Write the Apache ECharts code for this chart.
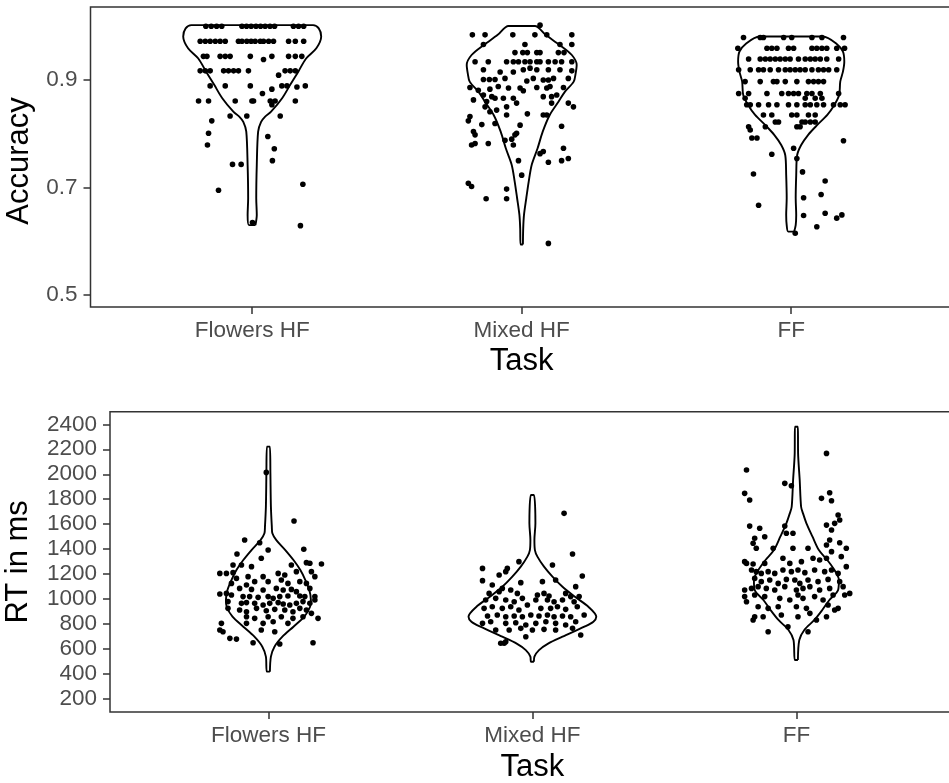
<!DOCTYPE html>
<html><head><meta charset="utf-8">
<script src="https://cdn.jsdelivr.net/npm/echarts@6/dist/echarts.min.js"></script>
<style>html,body{margin:0;padding:0;background:#fff}#c{width:949px;height:783px}</style>
</head><body><div id="c"></div>
<script>
const categories = ['Flowers HF', 'Mixed HF', 'FF'];
const accTicks = [0.5, 0.7, 0.9];
const rtTicks = [200, 400, 600, 800, 1000, 1200, 1400, 1600, 1800, 2000, 2200, 2400];

// jittered points: [horizontal jitter (category units), value]
const accFlowersPts = [
[-0.172,1.0],[-0.152,1.0],[-0.132,1.0],[-0.113,1.0],[-0.038,1.0],[-0.021,1.0],[-0.004,1.0],[0.014,1.0],[0.031,1.0],[0.048,1.0],[0.066,1.0],[0.083,1.0],[0.153,1.0],[0.172,1.0],[0.191,1.0],
[-0.193,0.972],[-0.174,0.972],[-0.156,0.972],[-0.137,0.972],[-0.119,0.972],[-0.100,0.972],[-0.051,0.972],[-0.038,0.972],[-0.020,0.972],[-0.004,0.972],[0.011,0.972],[0.030,0.972],[0.042,0.972],[0.061,0.972],[0.079,0.972],[0.135,0.972],[0.160,0.972],[0.191,0.972],
[-0.181,0.944],[-0.168,0.944],[-0.119,0.944],[-0.100,0.944],[-0.082,0.944],[-0.007,0.944],[0.073,0.944],[0.135,0.944],[0.160,0.944],[0.184,0.944],[0.042,0.938],
[-0.193,0.917],[-0.174,0.917],[-0.156,0.917],[-0.106,0.917],[-0.088,0.917],[-0.069,0.917],[-0.051,0.917],[-0.014,0.917],[0.122,0.917],[0.141,0.917],[0.160,0.917],[0.098,0.909],
[-0.156,0.889],[-0.100,0.889],[-0.007,0.889],[0.110,0.889],[0.129,0.889],[0.166,0.887],[0.197,0.889],[0.073,0.883],[0.038,0.875],
[-0.199,0.861],[-0.162,0.861],[-0.063,0.861],[-0.001,0.861],[0.005,0.861],[0.067,0.861],[0.085,0.861],[0.160,0.861],[0.073,0.854],
[-0.082,0.833],[-0.020,0.833],[0.104,0.833],
[-0.150,0.824],[-0.162,0.801],[-0.166,0.779],[0.058,0.795],[0.082,0.772],[0.075,0.750],[-0.073,0.743],[-0.041,0.743],[-0.125,0.695],[0.188,0.706],[0.179,0.629],[0.001,0.635]
];
const accMixedPts = [
[0.068,1.002],[-0.183,0.984],[-0.136,0.984],[-0.033,0.984],[0.049,0.984],[0.093,0.984],[0.186,0.984],
[-0.142,0.966],[0.012,0.966],[0.142,0.966],[0.186,0.966],
[-0.025,0.951],[0.004,0.951],[0.021,0.951],[0.056,0.951],[0.068,0.951],[0.136,0.951],[0.157,0.951],
[-0.173,0.934],[-0.124,0.934],[-0.056,0.934],[-0.031,0.934],[-0.012,0.934],[0.012,0.934],[0.031,0.934],[0.056,0.934],[0.068,0.934],[0.099,0.934],[0.124,0.934],[0.148,0.934],[0.186,0.934],
[-0.142,0.919],[-0.080,0.915],[-0.031,0.915],[0.006,0.919],[0.031,0.922],[0.056,0.919],[0.099,0.919],[0.142,0.919],[0.186,0.917],
[-0.142,0.901],[-0.120,0.901],[-0.099,0.901],[-0.062,0.903],[0.019,0.898],[0.043,0.903],[0.080,0.900],[0.099,0.900],[0.118,0.903],[0.173,0.903],
[-0.192,0.886],[-0.161,0.881],[-0.118,0.883],[-0.087,0.888],[-0.049,0.885],[-0.006,0.885],[0.006,0.880],[0.056,0.886],[0.093,0.885],[0.105,0.888],[0.155,0.886],
[-0.142,0.872],[-0.111,0.869],[-0.099,0.866],[-0.068,0.866],[-0.031,0.866],[0.080,0.869],[0.111,0.869],[0.130,0.872],[-0.179,0.863],
[-0.130,0.860],[-0.136,0.850],[-0.093,0.844],[-0.056,0.850],[-0.019,0.857],[0.111,0.857],[0.173,0.857],[0.192,0.850],
[-0.118,0.841],[-0.056,0.835],[0.021,0.837],[0.080,0.835],[0.093,0.835],
[-0.192,0.832],[-0.198,0.824],[-0.148,0.817],[-0.099,0.819],[-0.006,0.816],[0.148,0.814],
[-0.179,0.804],[-0.019,0.801],[-0.173,0.798],
[-0.062,0.788],[-0.037,0.790],[-0.025,0.798],
[-0.186,0.779],[-0.173,0.782],[-0.124,0.782],[-0.031,0.779],
[0.080,0.767],[0.068,0.763],[0.155,0.773],
[-0.012,0.750],[0.099,0.747],[0.148,0.750],[0.173,0.754],
[0.000,0.723],
[-0.198,0.708],[-0.186,0.702],[-0.056,0.697],
[-0.132,0.679],[-0.056,0.679],
[0.099,0.596]
];
const accFFPts = [
[-0.177,0.979],[-0.115,0.979],[-0.103,0.979],[-0.028,0.979],[0.002,0.979],[0.077,0.979],[0.114,0.979],[0.194,0.979],
[-0.198,0.959],[-0.090,0.959],[-0.072,0.959],[-0.053,0.959],[-0.010,0.959],[0.009,0.959],[0.077,0.959],[0.095,0.959],[0.114,0.959],[0.132,0.959],[0.169,0.959],[0.198,0.959],
[-0.158,0.939],[-0.115,0.939],[-0.096,0.939],[-0.078,0.939],[-0.059,0.939],[-0.041,0.939],[-0.022,0.939],[-0.004,0.939],[0.027,0.939],[0.052,0.939],[0.071,0.939],[0.089,0.939],[0.108,0.939],[0.132,0.939],[0.176,0.939],
[-0.195,0.919],[-0.152,0.919],[-0.121,0.919],[-0.103,0.919],[-0.078,0.919],[-0.047,0.919],[-0.022,0.919],[-0.004,0.919],[0.015,0.919],[0.033,0.919],[0.052,0.919],[0.077,0.919],[0.101,0.919],[0.120,0.919],[0.139,0.919],[0.169,0.919],
[-0.171,0.897],[-0.115,0.897],[-0.066,0.897],[-0.053,0.897],[-0.022,0.897],[0.021,0.897],[0.064,0.897],[0.083,0.897],[0.101,0.897],[0.120,0.897],
[-0.195,0.875],[-0.158,0.875],[-0.090,0.875],[-0.035,0.875],[-0.010,0.875],[0.009,0.875],[0.027,0.875],[0.058,0.875],[0.077,0.875],[0.108,0.875],[0.176,0.875],
[0.052,0.866],[0.089,0.866],[0.114,0.866],[-0.171,0.866],
[-0.165,0.854],[-0.152,0.854],[-0.121,0.854],[-0.084,0.854],[-0.053,0.854],[-0.010,0.854],[0.021,0.854],[0.052,0.854],[0.071,0.854],[0.095,0.854],[0.120,0.854],[0.157,0.854],[0.182,0.854],[0.200,0.854],
[-0.103,0.835],[-0.072,0.835],[0.002,0.835],[0.021,0.835],[0.064,0.835],[0.089,0.835],
[-0.059,0.822],[-0.047,0.822],[0.040,0.822],[0.052,0.822],[0.071,0.822],[0.089,0.822],
[-0.158,0.813],[-0.096,0.813],[0.021,0.813],[0.033,0.813],
[-0.152,0.807],[-0.146,0.792],[-0.127,0.792],[0.194,0.787],[-0.072,0.762],[0.009,0.773],[0.021,0.754],
[-0.140,0.725],[0.042,0.729],[0.126,0.712],[0.046,0.681],[0.111,0.687],[-0.121,0.667],
[0.046,0.648],[0.126,0.652],[0.169,0.643],[0.188,0.649],[0.095,0.627],[0.015,0.615]
];
const rtFlowersPts = [
[-0.008,2015],[0.097,1626],[-0.090,1473],[-0.033,1452],[-0.001,1393],[0.134,1399],[-0.119,1361],[-0.027,1327],
[-0.102,1273],[-0.064,1260],[0.087,1273],[0.144,1292],[0.157,1287],[0.201,1281],[-0.134,1273],
[-0.184,1206],[-0.159,1206],[-0.134,1212],[-0.077,1180],[-0.020,1180],[0.037,1206],[0.062,1193],[0.106,1220],[0.163,1220],[0.176,1180],
[-0.140,1126],[-0.083,1113],[-0.052,1140],[-0.001,1140],[0.049,1153],[0.074,1126],[0.119,1140],[0.144,1126],[-0.121,1166],
[-0.109,1086],[-0.064,1078],[-0.020,1073],[0.030,1086],[0.056,1073],[0.087,1078],[0.106,1060],[0.157,1086],
[-0.184,1041],[-0.159,1046],[-0.140,1033],[-0.096,1020],[-0.071,1020],[-0.039,1014],[-0.001,1020],[0.018,1006],[0.043,1020],[0.074,1025],[0.119,1025],[0.138,1020],[0.176,1020],
[-0.153,980],[-0.102,966],[-0.083,972],[-0.052,966],[-0.020,953],[0.005,966],[0.037,972],[0.056,961],[0.081,953],[0.106,966],[0.131,980],[0.157,966],[0.176,993],
[-0.153,926],[-0.109,913],[-0.083,899],[-0.045,926],[-0.008,907],[0.024,918],[0.062,913],[0.093,899],[0.119,926],[0.144,913],[0.163,886],
[-0.083,859],[-0.052,846],[-0.001,859],[0.049,859],[0.093,846],[0.131,859],[0.188,846],
[-0.178,806],[-0.083,806],[-0.020,806],[0.018,819],[0.074,806],
[-0.184,753],[-0.172,739],[-0.027,753],[0.024,739],
[-0.146,686],[-0.121,680],[-0.058,651],[0.043,640],[0.169,651]
];
const rtMixedPts = [
[0.120,1687],[0.152,1361],[-0.051,1300],[-0.189,1246],[-0.095,1246],[-0.126,1193],[-0.101,1220],[0.076,1273],[0.189,1185],
[-0.189,1148],[-0.044,1132],[0.088,1153],[0.164,1100],[-0.152,1113],[-0.114,1086],[0.038,1140],
[-0.164,1046],[-0.126,1060],[-0.082,1073],[-0.057,1046],[0.019,1033],[0.044,1046],[0.063,1025],[0.126,1046],[0.145,1020],[0.177,1020],
[-0.177,993],[-0.139,1006],[-0.101,993],[-0.069,979],[-0.038,1006],[0.013,993],[0.057,993],[0.082,979],[0.114,993],[0.158,979],
[-0.183,926],[-0.152,939],[-0.114,926],[-0.082,939],[-0.051,913],[-0.019,953],[0.032,926],[0.069,926],[0.095,939],[0.126,918],[0.170,939],
[-0.170,865],[-0.133,873],[-0.101,859],[-0.069,865],[-0.038,859],[-0.006,873],[0.025,865],[0.057,873],[0.082,859],[0.114,865],[0.145,859],[0.196,873],
[-0.189,806],[-0.158,819],[-0.101,806],[-0.063,811],[-0.025,793],[0.013,806],[0.051,819],[0.088,806],[0.126,793],[0.164,819],
[-0.139,753],[-0.088,753],[-0.044,766],[0.000,753],[0.044,758],[0.088,753],[0.152,766],[0.183,713],
[-0.101,659],[-0.025,699],[-0.107,646],[-0.120,646]
];
const rtFFPts = [
[0.114,2167],[-0.189,2034],[-0.044,1927],[-0.019,1908],[-0.196,1847],[-0.177,1794],[0.126,1852],[0.095,1807],[0.133,1788],
[0.158,1674],[0.164,1634],[0.145,1607],[0.114,1593],[0.133,1553],[-0.177,1585],[-0.139,1567],[-0.044,1585],[-0.013,1527],[-0.038,1527],
[-0.158,1487],[-0.164,1447],[-0.152,1407],[-0.120,1500],[-0.088,1407],[-0.013,1407],[0.044,1407],[0.126,1473],[0.164,1452],[0.189,1407],[0.114,1433],[0.133,1380],
[-0.196,1300],[-0.164,1281],[-0.120,1286],[-0.051,1327],[-0.025,1286],[0.019,1300],[0.063,1327],[0.088,1313],[0.114,1327],[0.170,1340],[0.189,1260],[-0.189,1286],
[-0.170,1233],[-0.152,1220],[-0.133,1206],[-0.107,1220],[-0.082,1206],[-0.051,1233],[-0.019,1220],[0.006,1233],[0.032,1212],[0.069,1233],[0.107,1220],[0.133,1233],[0.158,1206],
[-0.158,1166],[-0.133,1140],[-0.101,1153],[-0.069,1126],[-0.038,1158],[-0.006,1153],[0.013,1126],[0.044,1153],[0.082,1140],[0.120,1158],[0.164,1140],
[-0.196,1073],[-0.170,1086],[-0.145,1100],[-0.114,1086],[-0.082,1073],[-0.044,1100],[0.000,1073],[0.025,1086],[0.051,1100],[0.088,1073],[0.126,1086],[0.177,1100],[0.202,1046],
[-0.196,1020],[-0.189,979],[-0.158,1033],[-0.120,1020],[-0.063,1006],[-0.025,993],[0.006,1033],[0.025,1006],[0.069,1020],[0.101,993],[0.139,1033],[0.183,1033],
[-0.145,939],[-0.107,926],[-0.069,939],[0.000,939],[0.038,926],[0.120,953],[0.145,913],[0.158,926],
[-0.158,859],[-0.126,859],[-0.057,873],[0.006,859],[0.051,886],[0.076,833],[0.114,859],
[-0.164,833],[-0.032,779],[-0.107,739],[0.044,739]
];

// violin outlines: [value, half-width (category units)], bottom to top
const accFlowersViolin = [[0.630,0.012],[0.649,0.017],[0.680,0.015],[0.742,0.017],[0.804,0.022],[0.822,0.033],[0.832,0.048],[0.841,0.070],[0.866,0.111],[0.891,0.141],[0.9155,0.171],[0.940,0.200],[0.959,0.238],[0.981,0.256],[0.996,0.247],[1.002,0.226]];
const accMixedViolin = [[0.594,0.0045],[0.624,0.0056],[0.649,0.0085],[0.680,0.017],[0.711,0.026],[0.742,0.037],[0.773,0.059],[0.804,0.078],[0.835,0.104],[0.860,0.137],[0.878,0.160],[0.897,0.193],[0.912,0.200],[0.928,0.204],[0.9465,0.186],[0.965,0.141],[0.984,0.089],[1.0005,0.049]];
const accFFViolin = [[0.618,0.011],[0.630,0.0167],[0.649,0.0186],[0.680,0.0167],[0.723,0.0186],[0.760,0.022],[0.779,0.037],[0.798,0.063],[0.816,0.096],[0.835,0.134],[0.8535,0.160],[0.872,0.178],[0.897,0.182],[0.9155,0.192],[0.934,0.197],[0.9527,0.192],[0.968,0.167],[0.981,0.118]];
const rtFlowersViolin = [[419,0.0057],[539,0.0095],[619,0.023],[699,0.053],[779,0.095],[859,0.136],[939,0.158],[993,0.161],[1073,0.155],[1153,0.140],[1233,0.121],[1313,0.095],[1393,0.064],[1473,0.030],[1527,0.015],[1580,0.013],[1740,0.0095],[2007,0.0076],[2221,0.0057]];
const rtMixedViolin = [[499,0.0057],[539,0.0076],[592,0.025],[646,0.061],[699,0.114],[779,0.197],[819,0.231],[859,0.242],[939,0.212],[1019,0.161],[1099,0.114],[1180,0.076],[1260,0.044],[1340,0.019],[1393,0.0095],[1473,0.0076],[1607,0.0114],[1834,0.0057]];
const rtFFViolin = [[512,0.0057],[673,0.011],[753,0.030],[833,0.068],[913,0.098],[993,0.125],[1073,0.158],[1153,0.161],[1233,0.144],[1313,0.117],[1393,0.085],[1500,0.061],[1607,0.038],[1687,0.025],[1740,0.0178],[1954,0.0125],[2168,0.0064],[2381,0.0057]];

function violinPath(ci, v) {
  const c = ci + 1;
  const right = v.map(d => [c + d[1], d[0]]);
  const left = v.slice().reverse().map(d => [c - d[1], d[0]]);
  return right.concat(left, [right[0]]);
}
function jitter(ci, arr) { return arr.map(d => [ci + 1 + d[0], d[1]]); }

const FONT = 'Liberation Sans, Arial, sans-serif';
const tickColor = '#333';
const labelStyle = { color: '#4d4d4d', fontSize: 22.5, fontFamily: FONT };
const nameStyle = { color: '#000', fontSize: 31, fontFamily: FONT };

function xAxisFor(gi, gap) {
  return {
    gridIndex: gi, type: 'value', min: 0.4, max: 3.6,
    name: 'Task', nameLocation: 'middle', nameGap: gap, nameTextStyle: nameStyle,
    axisLine: { show: false },
    splitLine: { show: false },
    axisTick: { show: true, customValues: [1, 2, 3], length: 7, lineStyle: { color: tickColor, width: 1.5 } },
    axisLabel: { customValues: [1, 2, 3], margin: 12, formatter: v => categories[Math.round(v) - 1], ...labelStyle }
  };
}

const violinStyle = { type: 'line', showSymbol: false, symbol: 'none', smooth: 0.3, silent: true,
  lineStyle: { color: '#000', width: 1.9 }, z: 2 };
const pointStyle = { type: 'scatter', symbol: 'circle', symbolSize: 5.6, itemStyle: { color: '#000', opacity: 1 }, silent: true, z: 3 };

const accViolins = [accFlowersViolin, accMixedViolin, accFFViolin];
const rtViolins = [rtFlowersViolin, rtMixedViolin, rtFFViolin];
const accPts = [accFlowersPts, accMixedPts, accFFPts];
const rtPts = [rtFlowersPts, rtMixedPts, rtFFPts];

const series = [];
accViolins.forEach((v, i) => series.push({ ...violinStyle, xAxisIndex: 0, yAxisIndex: 0, data: violinPath(i, v) }));
accPts.forEach((p, i) => series.push({ ...pointStyle, xAxisIndex: 0, yAxisIndex: 0, data: jitter(i, p) }));
rtViolins.forEach((v, i) => series.push({ ...violinStyle, xAxisIndex: 1, yAxisIndex: 1, data: violinPath(i, v) }));
rtPts.forEach((p, i) => series.push({ ...pointStyle, xAxisIndex: 1, yAxisIndex: 1, data: jitter(i, p) }));

const chart = echarts.init(document.getElementById('c'), null, { renderer: 'canvas' });
chart.setOption({
  animation: false,
  backgroundColor: '#fff',
  grid: [
    { left: 90.5, top: 7, width: 862.4, height: 300, show: true, borderColor: tickColor, borderWidth: 1.5, outerBoundsMode: 'none', containLabel: false },
    { left: 110, top: 411.7, width: 844.8, height: 300.3, show: true, borderColor: tickColor, borderWidth: 1.5, outerBoundsMode: 'none', containLabel: false }
  ],
  xAxis: [xAxisFor(0, 39), xAxisFor(1, 40)],
  yAxis: [
    { gridIndex: 0, type: 'value', min: 0.4777, max: 1.0358,
      name: 'Accuracy', nameLocation: 'middle', nameGap: 56, nameTextStyle: { ...nameStyle, padding: [0, 8, 0, 0] },
      axisLine: { show: false }, splitLine: { show: false },
      axisTick: { show: true, customValues: accTicks, length: 7, lineStyle: { color: tickColor, width: 1.5 } },
      axisLabel: { customValues: accTicks, margin: 13, formatter: v => v.toFixed(1), ...labelStyle } },
    { gridIndex: 1, type: 'value', min: 96, max: 2501,
      name: 'RT in ms', nameLocation: 'middle', nameGap: 76, nameTextStyle: nameStyle,
      axisLine: { show: false }, splitLine: { show: false },
      axisTick: { show: true, customValues: rtTicks, length: 7, lineStyle: { color: tickColor, width: 1.5 } },
      axisLabel: { customValues: rtTicks, margin: 13, formatter: v => String(v), ...labelStyle } }
  ],
  series: series
});
</script>
</body></html>
